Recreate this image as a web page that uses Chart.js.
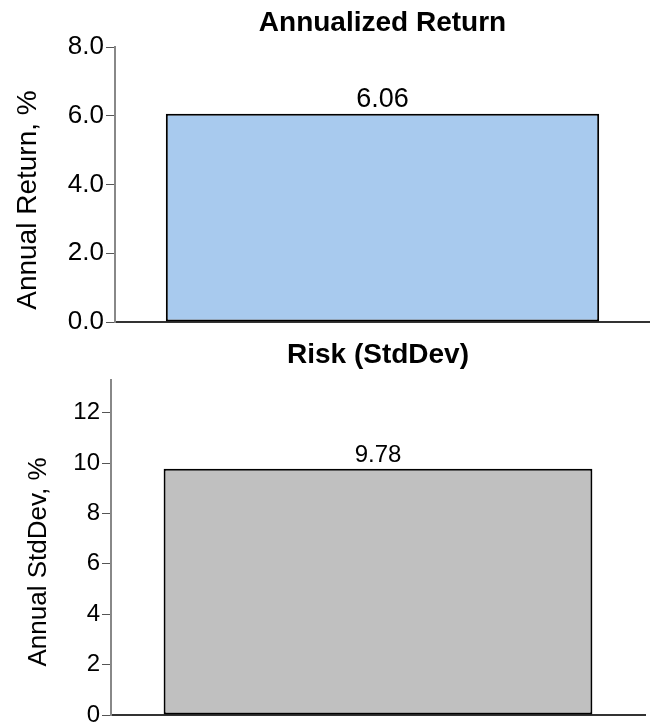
<!DOCTYPE html>
<html>
<head>
<meta charset="utf-8">
<script src="https://cdn.jsdelivr.net/npm/chart.js@4/dist/chart.umd.min.js"></script>
<style>
  body { margin: 0; background: #fff; }
  #retBox { position: absolute; left: 0; top: 0; width: 650px; height: 345px; }
  #sdBox { position: absolute; left: 0; top: 330px; width: 650px; height: 393px; }
</style>
</head>
<body>
<div id="retBox"><canvas id="retChart"></canvas></div>
<div id="sdBox"><canvas id="sdChart"></canvas></div>
<script>
// data
const categories = ['Portfolio'];
const annualReturn = [6.06];
const annualStdDev = [9.78];
const returnTicks = [0, 2, 4, 6, 8];
const stdDevTicks = [0, 2, 4, 6, 8, 10, 12];

const FONT = "'Liberation Sans', Arial, Helvetica, sans-serif";

// value label above each bar
function barLabels(size) {
  return {
    id: 'barLabels',
    afterDatasetsDraw(chart) {
      const ctx = chart.ctx;
      const meta = chart.getDatasetMeta(0);
      const values = chart.data.datasets[0].data;
      ctx.save();
      ctx.font = size + 'px ' + FONT;
      ctx.fillStyle = '#000';
      ctx.textAlign = 'center';
      ctx.textBaseline = 'alphabetic';
      meta.data.forEach((bar, i) => {
        ctx.fillText(values[i].toFixed(2), bar.x, bar.y - 7);
      });
      ctx.restore();
    }
  };
}

function makeChart(id, opts) {
  return new Chart(document.getElementById(id), {
    type: 'bar',
    data: {
      labels: categories,
      datasets: [{
        data: opts.values,
        backgroundColor: opts.color,
        borderColor: '#000',
        borderWidth: 2,
        borderSkipped: false,
        categoryPercentage: 1,
        barPercentage: opts.barPct
      }]
    },
    options: {
      responsive: true,
      maintainAspectRatio: false,
      animation: false,
      layout: { padding: { left: 0, right: opts.padRight, top: 0, bottom: 0 } },
      plugins: {
        legend: { display: false },
        tooltip: { enabled: false },
        title: {
          display: true,
          fullSize: false,   // centre over the plot area, not the canvas
          text: opts.title,
          color: '#000',
          font: { family: FONT, size: 28, weight: 'bold' },
          padding: opts.titlePad
        }
      },
      scales: {
        x: {
          ticks: { display: false },
          grid: { display: false },
          border: { color: '#333', width: 2 },
          afterFit(scale) { scale.height = opts.xHeight; }
        },
        y: {
          min: 0,
          max: opts.max,
          afterBuildTicks(scale) { scale.ticks = opts.ticks.map(v => ({ value: v })); },
          ticks: {
            color: '#000',
            padding: 2,
            font: { family: FONT, size: opts.tickSize },
            callback: opts.fmt
          },
          grid: {
            drawOnChartArea: false,
            drawTicks: true,
            tickLength: 9,
            tickColor: '#555',
            tickWidth: 1
          },
          border: { color: '#888', width: 2 },
          title: {
            display: true,
            text: opts.yTitle,
            color: '#000',
            font: { family: FONT, size: opts.yTitleSize },
            padding: { top: opts.yTitlePad, bottom: 0 }
          },
          afterFit(scale) {
            scale.width = opts.yWidth;
            // labels may hang past the plot edges
            scale.paddingTop = 0;
            scale.paddingBottom = 0;
          }
        }
      }
    },
    plugins: [barLabels(opts.labelSize)]
  });
}

// Annualized Return
const retChart = makeChart('retChart', {
  values: annualReturn,
  color: '#a8caee',
  barPct: 0.81,
  padRight: 0,
  title: 'Annualized Return',
  titlePad: { top: 6, bottom: 7.4 },
  xHeight: 23,
  max: 8,
  ticks: returnTicks,
  tickSize: 26,
  fmt: v => v.toFixed(1),
  yTitle: 'Annual Return, %    ',
  yTitleSize: 28,
  yTitlePad: 11,
  yWidth: 115,
  labelSize: 27
});

// Risk (StdDev)
const sdChart = makeChart('sdChart', {
  values: annualStdDev,
  color: '#c0c0c0',
  barPct: 0.803,
  padRight: 5,
  title: 'Risk (StdDev)',
  titlePad: { top: 8.2, bottom: 8.2 },
  xHeight: 8,
  max: 13.3,
  ticks: stdDevTicks,
  tickSize: 24,
  fmt: v => v,
  yTitle: 'Annual StdDev, %    ',
  yTitleSize: 26,
  yTitlePad: 23,
  yWidth: 111,
  labelSize: 24
});
</script>
</body>
</html>
